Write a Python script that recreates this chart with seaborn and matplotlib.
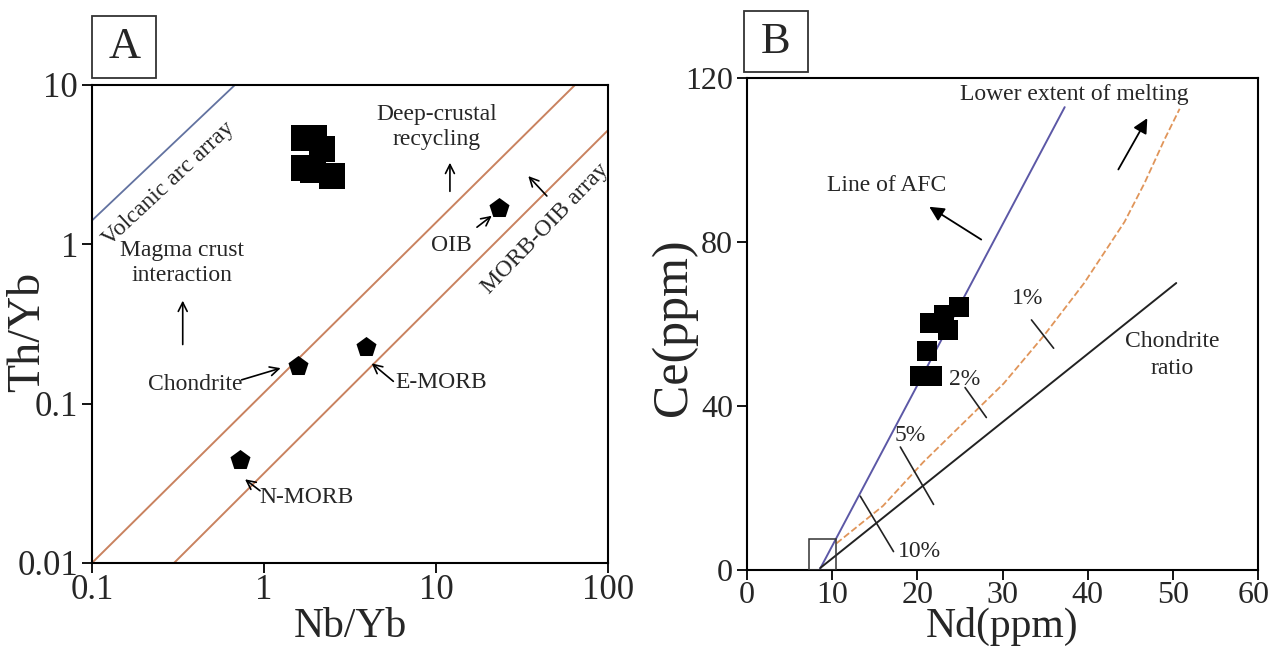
import numpy as np
import pandas as pd
import matplotlib
matplotlib.use("Agg")
import matplotlib.pyplot as plt
import matplotlib.transforms as mtransforms
from matplotlib.ticker import NullLocator, FixedLocator, FixedFormatter
from matplotlib.patches import Rectangle
import seaborn as sns

# ---------------- Panel A data (Th/Yb vs Nb/Yb) ----------------
sample_nb_yb = [1.72, 1.95, 2.18, 1.72, 1.94, 2.48]
sample_th_yb = [4.67, 4.67, 3.97, 3.00, 2.92, 2.70]

ref_names = ["OIB", "Chondrite", "E-MORB", "N-MORB"]
ref_nb_yb = [23.3, 1.57, 3.90, 0.724]
ref_th_yb = [1.69, 0.172, 0.226, 0.044]

morb_upper_x = [0.1, 64.3]
morb_upper_y = [0.01, 10.0]
morb_lower_x = [0.30, 100.0]
morb_lower_y = [0.01, 5.2]
arc_x = [0.1, 0.678]
arc_y = [1.41, 10.0]

a_xticks = [0.1, 1, 10, 100]
a_xticklabels = ["0.1", "1", "10", "100"]
a_yticks = [0.01, 0.1, 1, 10]
a_yticklabels = ["0.01", "0.1", "1", "10"]

# ---------------- Panel B data (Ce vs Nd) ----------------
sample_nd = [21.45, 23.16, 24.86, 23.55, 21.17, 20.27, 21.76]
sample_ce = [60.3, 62.2, 64.1, 58.5, 53.5, 47.3, 47.3]

afc_nd = [8.5, 37.3]
afc_ce = [0.0, 112.9]
chond_nd = [8.6, 50.4]
chond_ce = [0.5, 70.0]
melt_nd = [10.5, 15.97, 20.69, 25.42, 30.14, 34.87, 39.59, 44.32, 46.68, 49.04, 50.8]
melt_ce = [6.5, 15.65, 26.3, 35.9, 45.5, 57.2, 70.0, 84.9, 94.4, 105.1, 112.5]

source_nd = [7.3, 10.5]
source_ce = [0.0, 7.5]

pct_labels = ["1%", "2%", "5%", "10%"]
pct_tick_nd = [(33.4, 36.0), (25.6, 28.1), (18.0, 21.9), (13.3, 17.2)]
pct_tick_ce = [(61.0, 54.1), (44.5, 37.2), (30.0, 16.0), (18.0, 4.5)]
pct_label_nd = [32.9, 25.5, 19.2, 20.3]
pct_label_ce = [66.3, 46.5, 32.8, 4.5]

b_xticks = [0, 10, 20, 30, 40, 50, 60]
b_yticks = [0, 40, 80, 120]

# ---------------- style ----------------
sns.set_theme(style="white")
plt.rcParams["font.family"] = ["Liberation Serif", "DejaVu Serif"]
plt.rcParams["mathtext.fontset"] = "stix"

ORANGE = "#c9825f"
ARC_BLUE = "#6272a0"
AFC_BLUE = "#5c58a6"
DASH_ORANGE = "#e0955a"
ANN_FS = 17

fig = plt.figure(figsize=(12.72, 6.71), dpi=100)
axA = fig.add_axes([0.0723, 0.161, 0.4057, 0.7124])
axB = fig.add_axes([0.5873, 0.1505, 0.4017, 0.7332])


def style_axes(ax, fs):
    for s in ax.spines.values():
        s.set_visible(True)
        s.set_color("black")
        s.set_linewidth(1.5)
    ax.tick_params(axis="both", which="major", direction="out", length=7,
                   width=1.3, color="black", labelsize=fs, pad=3,
                   bottom=True, left=True, top=False, right=False)
    ax.tick_params(axis="x", pad=1)
    ax.grid(False)
    ax.set_facecolor("white")


# ---------------- Panel A ----------------
ax = axA
sns.lineplot(x=morb_upper_x, y=morb_upper_y, ax=ax, color=ORANGE, lw=1.4,
             sort=False, estimator=None)
sns.lineplot(x=morb_lower_x, y=morb_lower_y, ax=ax, color=ORANGE, lw=1.4,
             sort=False, estimator=None)
sns.lineplot(x=arc_x, y=arc_y, ax=ax, color=ARC_BLUE, lw=1.3,
             sort=False, estimator=None)
sns.scatterplot(x=sample_nb_yb, y=sample_th_yb, ax=ax, marker="s", s=330,
                color="black", edgecolor="black", linewidth=0, zorder=5)
sns.scatterplot(x=ref_nb_yb, y=ref_th_yb, ax=ax, marker="p", s=230,
                color="black", edgecolor="black", linewidth=0, zorder=5)
ax.set_xscale("log")
ax.set_yscale("log")
ax.set_xlim(0.1, 100)
ax.set_ylim(0.01, 10)
ax.xaxis.set_major_locator(FixedLocator(a_xticks))
ax.xaxis.set_major_formatter(FixedFormatter(a_xticklabels))
ax.yaxis.set_major_locator(FixedLocator(a_yticks))
ax.yaxis.set_major_formatter(FixedFormatter(a_yticklabels))
ax.xaxis.set_minor_locator(NullLocator())
ax.yaxis.set_minor_locator(NullLocator())
style_axes(ax, 25)
ax.set_xlabel("Nb/Yb", fontsize=30, labelpad=0)
ax.set_ylabel("Th/Yb", fontsize=33)
ax.yaxis.set_label_coords(-0.083, 0.483)

ax.text(0.28, 2.41, "Volcanic arc array", rotation=43, fontsize=ANN_FS,
        ha="center", va="center", rotation_mode="anchor")
ax.text(0.333, 0.76, "Magma crust\ninteraction", fontsize=ANN_FS,
        ha="center", va="center", linespacing=1.25)
ax.text(10.1, 5.43, "Deep-crustal\nrecycling", fontsize=ANN_FS,
        ha="center", va="center", linespacing=1.25)
ax.text(43.0, 1.26, "MORB-OIB array", rotation=46, fontsize=ANN_FS,
        ha="center", va="center", rotation_mode="anchor")
ax.text(12.3, 0.98, "OIB", fontsize=ANN_FS, ha="center", va="center")
ax.text(0.40, 0.131, "Chondrite", fontsize=ANN_FS, ha="center", va="center")
ax.text(10.7, 0.135, "E-MORB", fontsize=ANN_FS, ha="center", va="center")
ax.text(1.77, 0.0258, "N-MORB", fontsize=ANN_FS, ha="center", va="center")

open_arrow = dict(arrowstyle="->", color="black", lw=1.2, mutation_scale=16,
                  shrinkA=0, shrinkB=0)
for tail, head in [((0.337, 0.235), (0.337, 0.443)),
                   ((12.05, 2.15), (12.05, 3.25)),
                   ((44.1, 2.01), (34.4, 2.68)),
                   ((17.3, 1.28), (21.1, 1.51)),
                   ((0.741, 0.141), (1.25, 0.167)),
                   ((5.65, 0.138), (4.23, 0.179)),
                   ((0.948, 0.0284), (0.776, 0.0335))]:
    ax.annotate("", xy=head, xytext=tail, arrowprops=open_arrow)

ax.add_patch(Rectangle((0.0, 1.0146), 0.125, 0.13, transform=ax.transAxes,
                       fill=False, edgecolor="#333333", lw=1.3, clip_on=False))
ax.text(0.0625, 1.079, "A", transform=ax.transAxes, fontsize=32,
        ha="center", va="center")

# ---------------- Panel B ----------------
ax = axB
sns.lineplot(x=afc_nd, y=afc_ce, ax=ax, color=AFC_BLUE, lw=1.4,
             sort=False, estimator=None)
sns.lineplot(x=chond_nd, y=chond_ce, ax=ax, color="#222222", lw=1.4,
             sort=False, estimator=None)
sns.lineplot(x=melt_nd, y=melt_ce, ax=ax, color=DASH_ORANGE, lw=1.3,
             linestyle="--", sort=False, estimator=None)
sns.scatterplot(x=sample_nd, y=sample_ce, ax=ax, marker="s", s=200,
                color="black", edgecolor="black", linewidth=0, zorder=5)
ax.add_patch(Rectangle((source_nd[0], source_ce[0]),
                       source_nd[1] - source_nd[0], source_ce[1] - source_ce[0],
                       fill=False, edgecolor="#333333", lw=1.1, zorder=4))
for tnd, tce in zip(pct_tick_nd, pct_tick_ce):
    sns.lineplot(x=list(tnd), y=list(tce), ax=ax, color="#222222", lw=1.2,
                 sort=False, estimator=None)
for lab, lx, ly in zip(pct_labels, pct_label_nd, pct_label_ce):
    ax.text(lx, ly, lab, fontsize=ANN_FS, ha="center", va="center")

ax.set_xlim(0, 60)
ax.set_ylim(0, 120)
ax.set_xticks(b_xticks)
ax.set_yticks(b_yticks)
style_axes(ax, 23)
ax.set_xlabel("Nd(ppm)", fontsize=30, labelpad=-2)
ax.set_ylabel("Ce(ppm)", fontsize=36)
ax.yaxis.set_label_coords(-0.098, 0.494)

# nudge the last x tick label so it stays inside the figure
fig.canvas.draw()
last = ax.get_xticklabels()[-1]
last.set_transform(last.get_transform() +
                   mtransforms.ScaledTranslation(-4 / 100, 0, fig.dpi_scale_trans))

ax.text(16.4, 93.9, "Line of AFC", fontsize=ANN_FS, ha="center", va="center")
ax.text(38.4, 116.0, "Lower extent of melting", fontsize=ANN_FS,
        ha="center", va="center")
ax.text(49.9, 52.4, "Chondrite\nratio", fontsize=ANN_FS, ha="center",
        va="center", linespacing=1.35)

filled_arrow = dict(arrowstyle="-|>", color="black", lw=1.3, mutation_scale=22,
                    shrinkA=0, shrinkB=0)
ax.annotate("", xy=(21.4, 88.6), xytext=(27.5, 80.6), arrowprops=filled_arrow)
ax.annotate("", xy=(47.0, 110.2), xytext=(43.6, 97.7), arrowprops=filled_arrow)

ax.add_patch(Rectangle((-0.006, 1.012), 0.125, 0.124, transform=ax.transAxes,
                       fill=False, edgecolor="#333333", lw=1.3, clip_on=False))
ax.text(0.0565, 1.074, "B", transform=ax.transAxes, fontsize=32,
        ha="center", va="center")

fig.savefig("out.png", dpi=100, facecolor="white")
